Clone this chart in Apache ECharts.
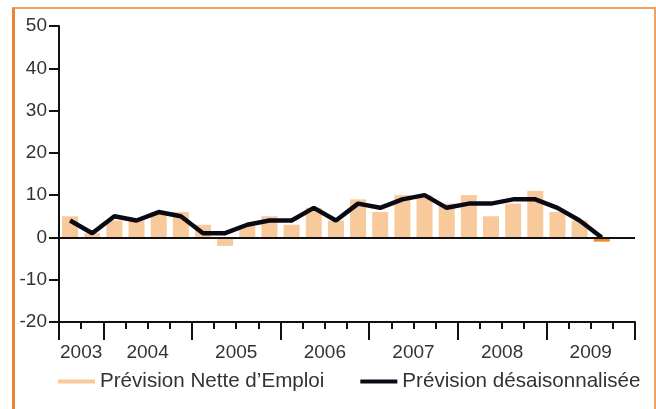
<!DOCTYPE html>
<html>
<head>
<meta charset="utf-8">
<script src="https://cdn.jsdelivr.net/npm/echarts@6/dist/echarts.min.js"></script>
<style>
    body { margin: 0; background: #fff; }
    #wrap { position: relative; width: 656px; height: 409px; }
    #chart { width: 656px; height: 409px; }
    #frame {
        position: absolute; left: 12px; top: 7px; width: 639px; height: 420px;
        border-top: 2px solid #f2a060; border-left: 3px solid #ee8430; border-right: 2px solid #f2a060;
        pointer-events: none;
    }
</style>
</head>
<body>
<div id="wrap">
    <div id="chart"></div>
    <div id="frame"></div>
</div>
<script>
    // trimestres 2003 T3 .. 2009 T4 (le dernier sans valeur)
    const quarters = ['2003T3', '2003T4',
        '2004T1', '2004T2', '2004T3', '2004T4',
        '2005T1', '2005T2', '2005T3', '2005T4',
        '2006T1', '2006T2', '2006T3', '2006T4',
        '2007T1', '2007T2', '2007T3', '2007T4',
        '2008T1', '2008T2', '2008T3', '2008T4',
        '2009T1', '2009T2', '2009T3', '2009T4']
    const netteEmploi = [5, 1, 4, 4, 6, 6, 3, -2, 3, 5, 3, 7, 4, 9, 6, 10, 10, 8, 10, 5, 8, 11, 6, 4, -1, null]
    const desaisonnalisee = [4, 1, 5, 4, 6, 5, 1, 1, 3, 4, 4, 7, 4, 8, 7, 9, 10, 7, 8, 8, 9, 9, 7, 4, 0, null]
    const years = ['2003', '2004', '2005', '2006', '2007', '2008', '2009']
    const yearMid = [1, 4, 8, 12, 16, 20, 24]
    const yearBounds = [0, 2, 6, 10, 14, 18, 22, 26]

    const lastIdx = 24
    const font = '"Liberation Sans", Arial, sans-serif'

    const option = {
        animation: false,
        legend: {
            bottom: 12,
            left: 53,
            itemWidth: 37,
            itemHeight: 4,
            itemGap: 36,
            icon: 'rect',
            textStyle: { fontFamily: font, fontSize: 20.6, color: '#333' },
            data: [
                { name: 'Prévision Nette d’Emploi', itemStyle: { color: '#f8c99a' } },
                { name: 'Prévision désaisonnalisée', itemStyle: { color: '#0a0a14' } }
            ]
        },
        grid: { left: 59, right: 21, top: 26, bottom: 87 },
        xAxis: [
            {
                type: 'category',
                data: quarters,
                boundaryGap: true,
                axisLine: { onZero: false, lineStyle: { color: '#111', width: 2 } },
                axisTick: { show: true, interval: 0, length: 7, lineStyle: { color: '#111', width: 2 } },
                axisLabel: { show: false }
            },
            {
                type: 'value',
                min: 0,
                max: 26,
                position: 'bottom',
                axisLine: { show: false, onZero: false },
                splitLine: { show: false },
                axisTick: { show: true, length: 18, customValues: yearBounds, lineStyle: { color: '#111', width: 2 } },
                axisLabel: {
                    customValues: yearMid,
                    formatter: v => years[yearMid.indexOf(v)] || '',
                    margin: 21,
                    fontFamily: font, fontSize: 19, color: '#333'
                }
            }
        ],
        yAxis: {
            type: 'value',
            min: -20,
            max: 50,
            interval: 10,
            axisLine: { show: true, lineStyle: { color: '#111', width: 2 } },
            axisTick: { show: true, length: 10, lineStyle: { color: '#111', width: 2 } },
            splitLine: { show: false },
            axisLabel: { margin: 12, fontFamily: font, fontSize: 19, color: '#333' }
        },
        series: [
            {
                name: 'Prévision Nette d’Emploi',
                type: 'bar',
                barWidth: 16,
                itemStyle: { color: '#f8c99a' },
                data: netteEmploi.map((v, i) => i === lastIdx ? { value: v, itemStyle: { color: '#ee8a22' } } : v),
                markLine: {
                    silent: true,
                    symbol: 'none',
                    label: { show: false },
                    lineStyle: { color: '#111', width: 2, type: 'solid' },
                    data: [{ yAxis: 0 }]
                }
            },
            {
                name: 'Prévision désaisonnalisée',
                type: 'line',
                symbol: 'none',
                lineStyle: { color: '#0a0a14', width: 4.5 },
                itemStyle: { color: '#0a0a14' },
                data: desaisonnalisee
            }
        ]
    }

    const chart = echarts.init(document.getElementById('chart'))
    chart.setOption(option)
</script>
</body>
</html>
